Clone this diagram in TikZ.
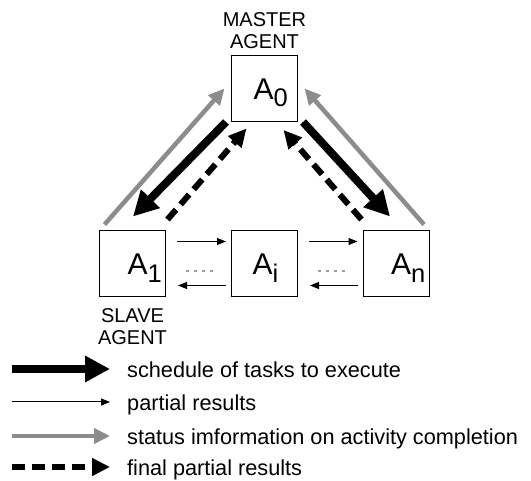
\documentclass[tikz,border=0pt]{standalone}
\usepackage{fontspec}
\setmainfont{Liberation Sans}
\usetikzlibrary{arrows.meta}

\definecolor{statusgray}{gray}{0.55}
\definecolor{dotgray}{gray}{0.62}
\newcommand{\agsub}[1]{\raisebox{-7.5pt}{\fontsize{25.5}{25}\selectfont #1}}

\tikzset{
  agent/.style={draw,line width=1pt,minimum size=66pt,inner sep=0pt,
    text width=66pt,align=left,text height=21.5pt,text depth=0pt,
    font=\fontsize{30}{30}\selectfont},
  role/.style={align=center,inner sep=0pt,font=\fontsize{20}{22}\selectfont},
  legtext/.style={anchor=base west,inner sep=0pt,font=\fontsize{21.7}{24}\selectfont},
  schedarrow/.style={line width=8pt,-{Triangle[length=25pt,width=25pt]}},
  partarrow/.style={line width=1pt,-{Triangle[length=9pt,width=7pt]}},
  statarrow/.style={statusgray,line width=4.5pt,-{Triangle[length=16pt,width=15pt]}},
  finalarrow/.style={line width=6pt,dash pattern=on 13pt off 7pt,-{Triangle[length=18pt,width=17pt]}},
  dotrow/.style={dotgray,line width=2.5pt,dash pattern=on 3pt off 5pt}
}

\begin{document}
\begin{tikzpicture}[x=1pt,y=1pt]
  \useasboundingbox (0,0) rectangle (531,481);
  % agents
  \foreach \n/\x/\y/\s/\pad in {a0/264.5/392.5/0/22,a1/132.5/217/1/28,
      ai/264.5/217/i/21,an/396/217/n/28}
    \node[agent] (\n) at (\x,\y) {\hspace*{\pad pt}A\agsub{\s}};
  \node[role,anchor=north] (master) at ([yshift=42.5pt]a0.north) {MASTER\\AGENT};
  \node[role,anchor=north] (slave) at ([yshift=-11pt]a1.south) {SLAVE\\AGENT};

  % master <-> slaves
  \draw[statarrow] ([shift={(5.5,6)}]a1.north west) -- ([xshift=-6.5pt]a0.west);
  \draw[schedarrow] ([xshift=-5pt]a0.south west) -- ([shift={(0.5,14)}]a1.north);
  \draw[finalarrow] ([shift={(1.5,11)}]a1.north east) -- ([shift={(15.5,-6.5)}]a0.south west);
  \draw[statarrow] ([shift={(-5.5,6)}]an.north east) -- ([xshift=6.5pt]a0.east);
  \draw[schedarrow] ([xshift=5pt]a0.south east) -- ([shift={(-6,14)}]an.north);
  \draw[finalarrow] ([shift={(-1,11)}]an.north west) -- ([shift={(-14.5,-8)}]a0.south east);

  % slave <-> slave
  \foreach \l/\r in {a1/ai,ai/an}{
    \draw[partarrow] ([shift={(11,-11)}]\l.north east) -- ([shift={(-5,-11)}]\r.north west);
    \draw[partarrow] ([shift={(-5,12)}]\r.south west) -- ([shift={(12,12)}]\l.south east);
    \draw[dotrow] ([shift={(19.5,-7)}]\l.east) -- ++(27,0);
  }

  % legend
  \foreach \i/\y/\sty/\txt in {1/112/schedarrow/schedule of tasks to execute,
      2/79/partarrow/partial results,
      3/45/statarrow/status imformation on activity completion,
      4/14/finalarrow/final partial results}{
    \node[legtext] (leg\i) at (127,\y-9) {\txt};
    \coordinate (key\i) at (12,\y);
    \coordinate (tip\i) at (110,\y);
    \draw[\sty] (key\i) -- (tip\i);
  }
\end{tikzpicture}
\end{document}
